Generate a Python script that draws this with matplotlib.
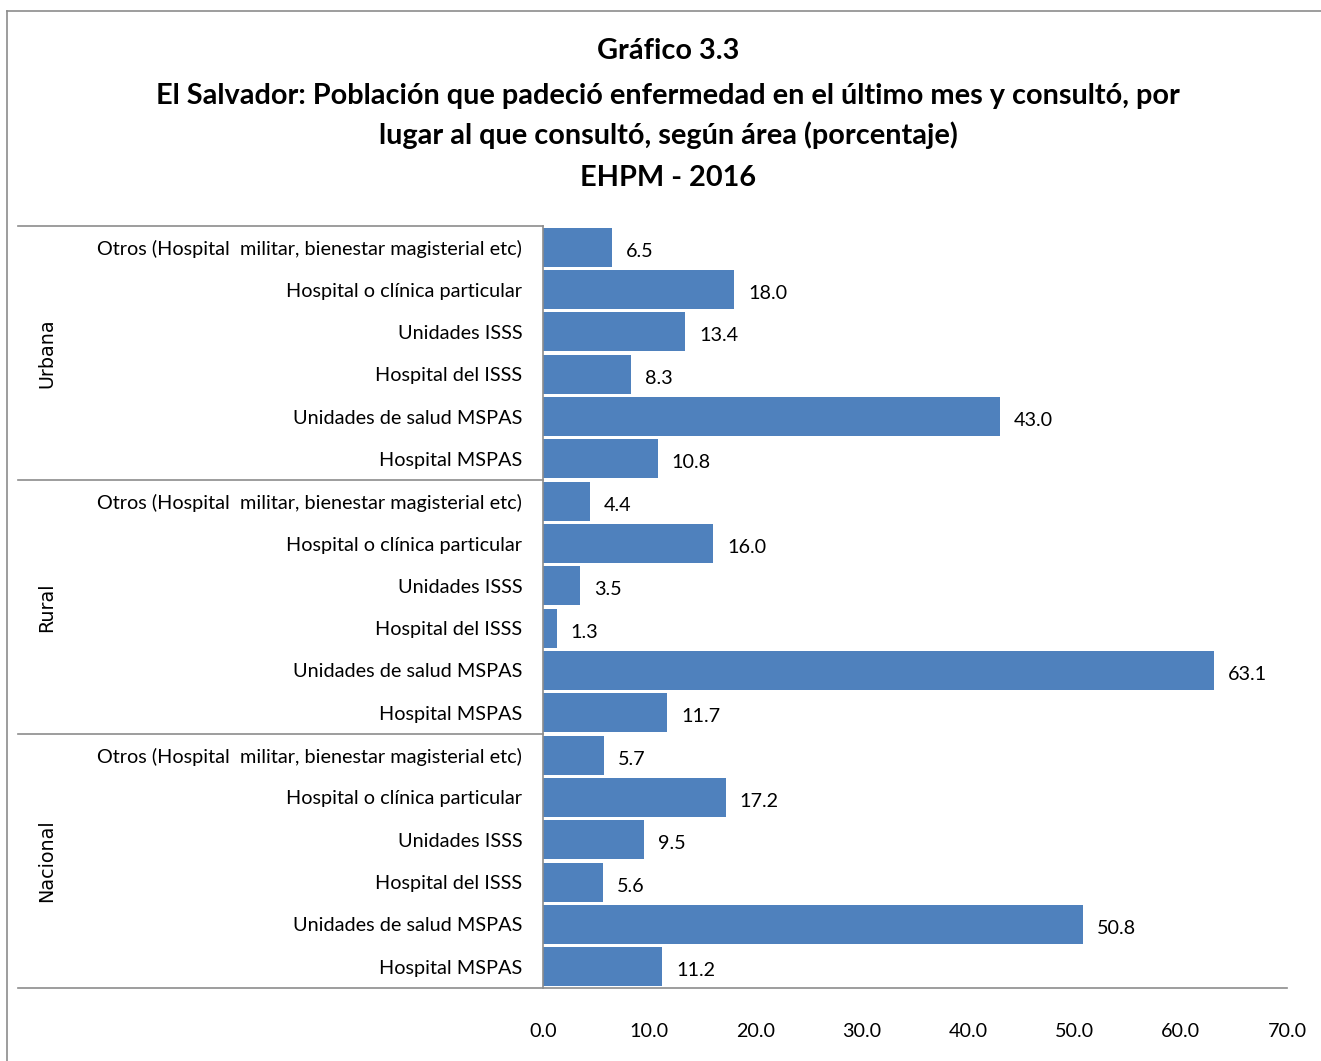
import numpy as np
import matplotlib
matplotlib.use("Agg")
import matplotlib.pyplot as plt
from matplotlib.lines import Line2D

plt.rcParams['font.family'] = ['Lato', 'DejaVu Sans']

# datos (de arriba hacia abajo dentro de cada area)
areas = ["Urbana", "Rural", "Nacional"]
lugares = ["Otros (Hospital  militar, bienestar magisterial etc)",
           "Hospital o clínica particular",
           "Unidades ISSS",
           "Hospital del ISSS",
           "Unidades de salud MSPAS",
           "Hospital MSPAS"]
urbana = [6.5, 18.0, 13.4, 8.3, 43.0, 10.8]
rural = [4.4, 16.0, 3.5, 1.3, 63.1, 11.7]
nacional = [5.7, 17.2, 9.5, 5.6, 50.8, 11.2]
xticks = [0, 10, 20, 30, 40, 50, 60, 70]

valores = urbana + rural + nacional
etiquetas = lugares * 3
y = np.arange(len(valores))

W, H = 1321, 1061
fig = plt.figure(figsize=(W / 100, H / 100), dpi=100)

# marco del grafico
fig.add_artist(Line2D([7 / W, 7 / W], [0, 1 - 11 / H], color="#8c8c8c", lw=1.2))
fig.add_artist(Line2D([7 / W, 1], [1 - 11 / H, 1 - 11 / H], color="#8c8c8c", lw=1.2))

ax = fig.add_axes([543 / W, 1 - 988 / H, (1287 - 543) / W, (988 - 226) / H])
ax.barh(y, valores, height=0.92, color="#4F81BD", edgecolor="none")
ax.set_ylim(len(valores) - 0.5, -0.5)
ax.set_xlim(0, 70)

for yi, v in zip(y, valores):
    ax.annotate(f"{v:.1f}", (v, yi), xytext=(14, -4), textcoords="offset pixels",
                ha="left", va="center", fontsize=14.2)

ax.set_yticks(y)
ax.set_yticklabels(etiquetas, fontsize=14.3)
ax.set_xticks(xticks)
ax.set_xticklabels([f"{t:.1f}" for t in xticks], fontsize=14.2)
ax.tick_params(axis="y", length=0, pad=15)
ax.tick_params(axis="x", length=0, pad=25)

for s in ["top", "right", "bottom"]:
    ax.spines[s].set_visible(False)
ax.spines["left"].set_color("#8c8c8c")
ax.spines["left"].set_linewidth(1.2)

# lineas de grupos
tr = ax.get_yaxis_transform()
x0 = (18 - 543) / (1287 - 543)
for k in range(4):
    yy = k * 6 - 0.5
    x1 = 1.0 if k == 3 else 0.0
    ax.plot([x0, x1], [yy, yy], transform=tr, color="#8c8c8c", lw=1.2, clip_on=False)

xg = (47 - 543) / (1287 - 543)
for k, a in enumerate(areas):
    ax.text(xg, k * 6 + 2.5, a, transform=tr, rotation=90, ha="center", va="center",
            fontsize=13.8, family="DejaVu Sans")

titulo = ["Gráfico 3.3",
          "El Salvador: Población que padeció enfermedad en el último mes y consultó, por",
          "lugar al que consultó, según área (porcentaje)",
          "EHPM - 2016"]
for t, yp in zip(titulo, [51, 96, 135, 178]):
    fig.text(668 / W, 1 - yp / H, t, ha="center", va="center", fontsize=20.8,
             fontweight="bold")

fig.savefig("out.png", dpi=100)
